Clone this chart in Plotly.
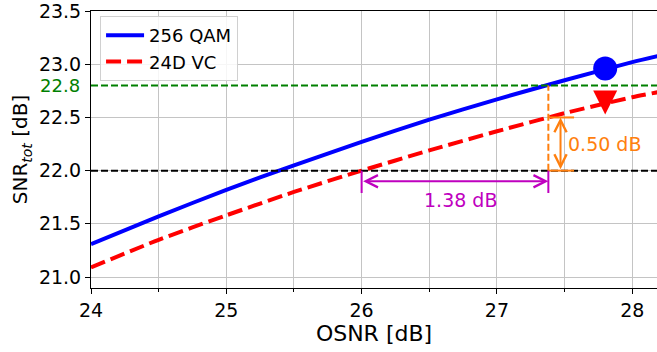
import plotly.graph_objects as go

# Data
osnr = [24.0, 24.5, 25.0, 25.5, 26.0, 26.5, 27.0, 27.5, 28.0, 28.2]
snr_qam256 = [21.31, 21.57, 21.82, 22.05, 22.27, 22.48, 22.67, 22.85, 23.02, 23.08]
snr_vc24d = [21.09, 21.35, 21.58, 21.80, 22.00, 22.19, 22.37, 22.54, 22.69, 22.74]

marker_x = [27.8]
marker_qam256 = [22.96]
marker_vc24d = [22.64]

target_snr = 22.8
ref_snr = 22.0
osnr_start = 26.0
osnr_gap = 1.38
snr_gap = 0.50

x_ticks = [24, 25, 26, 27, 28]
y_ticks = [21.0, 21.5, 22.0, 22.5, 23.0, 23.5]

ORANGE = "#ff7f0e"
MAG = "#bf00bf"
FONT = "DejaVu Sans"

fig = go.Figure()

fig.add_trace(go.Scatter(x=osnr, y=snr_qam256, mode="lines", name="256 QAM",
                         line=dict(color="blue", width=4, shape="spline", smoothing=0.6)))
fig.add_trace(go.Scatter(x=osnr, y=snr_vc24d, mode="lines", name="24D VC",
                         line=dict(color="red", width=4, dash="15px,6px", shape="spline", smoothing=0.6)))

# horizontal reference lines
fig.add_hline(y=target_snr, line=dict(color="green", width=2, dash="7px,3px"))
fig.add_hline(y=ref_snr, line=dict(color="black", width=2, dash="7px,3px"))

x_end = osnr_start + osnr_gap
# orange dashed vertical
fig.add_shape(type="line", x0=x_end, x1=x_end, y0=ref_snr, y1=target_snr,
              line=dict(color=ORANGE, width=2, dash="7px,3px"))
# orange short horizontal bars
for yv in [ref_snr, ref_snr + snr_gap]:
    fig.add_shape(type="line", x0=x_end, x1=x_end + 0.19, y0=yv, y1=yv,
                  line=dict(color=ORANGE, width=2))
# orange double arrow
fig.add_annotation(x=x_end + 0.09, y=ref_snr + snr_gap, ax=x_end + 0.09, ay=ref_snr,
                   xref="x", yref="y", axref="x", ayref="y", text="", showarrow=True,
                   arrowhead=5, startarrowhead=5, arrowside="end+start",
                   arrowsize=1.2, startarrowsize=1.2, arrowwidth=2, arrowcolor=ORANGE)
fig.add_annotation(x=x_end + 0.13, y=22.25, xref="x", yref="y", text=f"{snr_gap:.2f} dB",
                   showarrow=False, xanchor="left", font=dict(color=ORANGE, size=19, family=FONT))

# magenta bars and arrow
for xv in [osnr_start, x_end]:
    fig.add_shape(type="line", x0=xv, x1=xv, y0=ref_snr, y1=21.79,
                  line=dict(color=MAG, width=2))
fig.add_annotation(x=x_end, y=21.9, ax=osnr_start, ay=21.9,
                   xref="x", yref="y", axref="x", ayref="y", text="", showarrow=True,
                   arrowhead=5, startarrowhead=5, arrowside="end+start",
                   arrowsize=1.2, startarrowsize=1.2, arrowwidth=2, arrowcolor=MAG)
fig.add_annotation(x=osnr_start + osnr_gap / 2 + 0.04, y=21.72, xref="x", yref="y",
                   text=f"{osnr_gap:.2f} dB", showarrow=False,
                   font=dict(color=MAG, size=19, family=FONT))

# markers
fig.add_trace(go.Scatter(x=marker_x, y=marker_qam256, mode="markers", showlegend=False,
                         marker=dict(symbol="circle", size=24, color="blue")))
fig.add_trace(go.Scatter(x=marker_x, y=marker_vc24d, mode="markers", showlegend=False,
                         marker=dict(symbol="arrow-down", angle=0, standoff=12, size=24,
                                     color="red", line=dict(width=0))))

# 22.8 label
fig.add_annotation(x=0, y=target_snr, xref="paper", yref="y", text=f"{target_snr}",
                   showarrow=False, xanchor="right", xshift=-9,
                   font=dict(color="green", size=18, family=FONT))

fig.update_layout(
    width=657, height=352,
    margin=dict(l=91, r=0, t=11, b=64),
    paper_bgcolor="white", plot_bgcolor="white",
    font=dict(family=FONT, size=19, color="black"),
    legend=dict(x=0.016, y=0.982, xanchor="left", yanchor="top",
                bgcolor="rgba(255,255,255,0.85)", bordercolor="#d0d0d0", borderwidth=1,
                font=dict(size=18, family=FONT), tracegroupgap=2, itemwidth=38),
    xaxis=dict(range=[24, 28.183], tickvals=x_ticks, ticktext=[str(v) for v in x_ticks],
               automargin=False, ticklabeloverflow="allow",
               showgrid=True, gridcolor="#c4c4c4", gridwidth=1,
               showline=True, linecolor="black", linewidth=1, mirror=True,
               ticks="outside", ticklen=5, tickcolor="black",
               minor=dict(dtick=0.5, tick0=24, ticks="outside", ticklen=3, tickcolor="black",
                          showgrid=True, gridcolor="#c4c4c4", gridwidth=1),
               zeroline=False,
               title=dict(text="OSNR [dB]", font=dict(size=22, family=FONT), standoff=2)),
    yaxis=dict(range=[20.897, 23.5005], tickvals=y_ticks, ticktext=[f"{v:.1f}" for v in y_ticks],
               automargin=False, ticklabeloverflow="allow",
               showgrid=True, gridcolor="#c4c4c4", gridwidth=1,
               showline=True, linecolor="black", linewidth=1,
               ticks="outside", ticklen=5, tickcolor="black", zeroline=False,
               title=dict(text="SNR<sub><i>tot</i></sub> [dB]", font=dict(size=20, family=FONT),
                          standoff=5)),
)

# remove the default page margin so the figure fills the window from its top-left corner
fig.write_html("out.html", config={"displayModeBar": False},
               post_script="document.body.style.margin='0px';")
